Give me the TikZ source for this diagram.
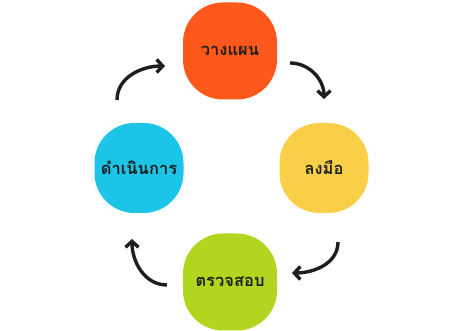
\documentclass[tikz,border=0pt]{standalone}
\usepackage{fontspec}
\newfontfamily\thaifont[Script=Thai]{Loma}
\usetikzlibrary{arrows.meta}
\definecolor{planorange}{RGB}{255,88,28}
\definecolor{doyellow}{RGB}{249,207,72}
\definecolor{checkgreen}{RGB}{178,214,32}
\definecolor{actcyan}{RGB}{28,196,232}
\definecolor{inkdark}{RGB}{30,30,30}
\tikzset{
    stepbox/.style = {rectangle, rounded corners=40pt, minimum width=92pt, minimum height=94pt, text centered, draw=none, font=\thaifont\bfseries\fontsize{16.5}{20}\selectfont, text=inkdark},
    arrow/.style = {line width=3.4pt, draw=inkdark, -{Straight Barb[length=6pt, width=13pt]}}
}

\begin{document}
\begin{tikzpicture}[x=1pt, y=1pt]
    \useasboundingbox (0, 0) rectangle (464, 331);

    \node (plan) [stepbox, fill=planorange, minimum width=94pt, minimum height=97pt] at (230, 280) {วางแผน};
    \node (do) [stepbox, fill=doyellow, minimum width=89pt, minimum height=90pt] at (324, 163) {ลงมือ};
    \node (check) [stepbox, fill=checkgreen, minimum width=94pt, minimum height=97pt] at (230, 49) {ตรวจสอบ};
    \node (act) [stepbox, fill=actcyan, minimum width=89pt, minimum height=90pt] at (139, 163) {ดำเนินการ};

    \coordinate (a1) at (117, 231);
    \coordinate (b1) at (165, 265);
    \coordinate (a2) at (290, 268);
    \coordinate (b2) at (324, 232);
    \coordinate (a3) at (338, 89);
    \coordinate (b3) at (292, 58);
    \coordinate (a4) at (167, 46);
    \coordinate (b4) at (132, 92);

    \draw [arrow] (a1) to[out=90, in=180] (b1);
    \draw [arrow] (a2) to[out=0, in=90] (b2);
    \draw [arrow] (a3) to[out=-90, in=0] (b3);
    \draw [arrow] (a4) to[out=180, in=-90] (b4);
\end{tikzpicture}
\end{document}
